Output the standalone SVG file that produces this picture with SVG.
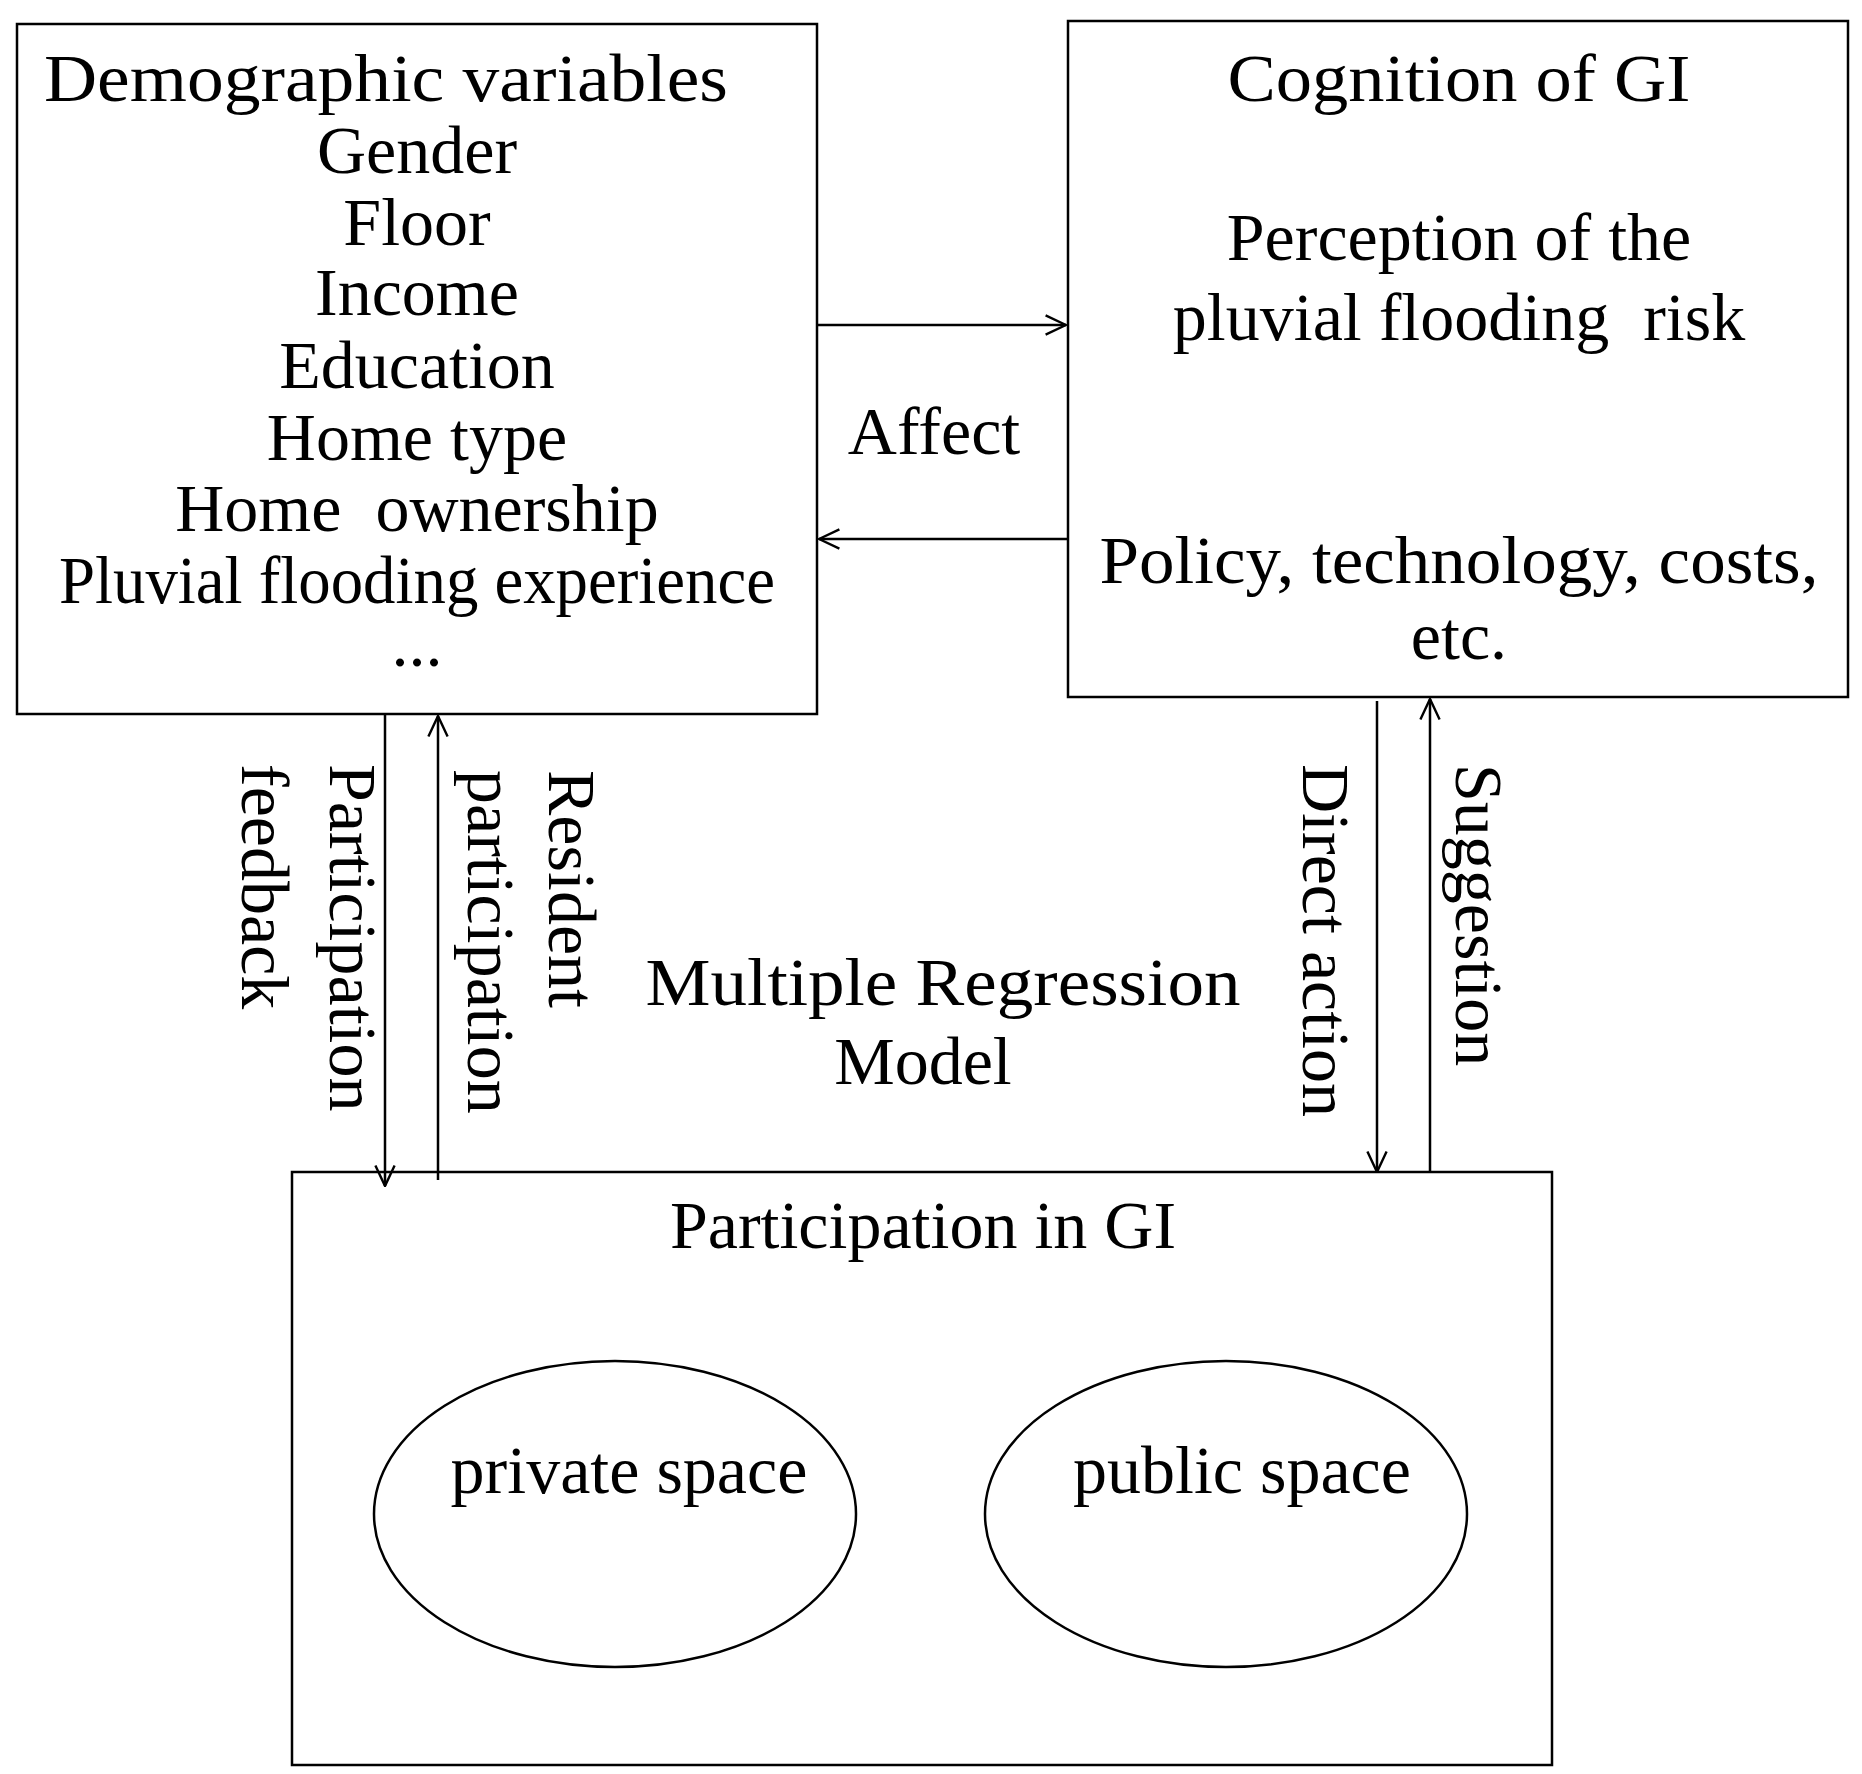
<svg xmlns="http://www.w3.org/2000/svg" width="1862" height="1774" viewBox="0 0 1862 1774">
<style>
text{font-family:"Liberation Serif","DejaVu Serif",serif;font-size:68px;fill:#000;text-anchor:middle}
.v{text-anchor:start}
.b{fill:#fff;stroke:#000;stroke-width:2.5}
.c{stroke:#000;stroke-width:2.5;fill:none}
</style>
<defs>
<marker id="m" viewBox="0 0 20 20" refX="19" refY="10" markerWidth="24" markerHeight="24" markerUnits="userSpaceOnUse" orient="auto"><path d="M2 2 L19 10 L2 18" fill="none" stroke="#000" stroke-width="2"/></marker></defs>
<rect width="1862" height="1774" fill="#fff"/>
<g id="demo"><rect class="b" x="17" y="24" width="800" height="690"/>
<text x="386" y="101" textLength="684" lengthAdjust="spacingAndGlyphs">Demographic variables</text>
<text x="417" y="173">Gender</text><text x="417" y="245">Floor</text><text x="417" y="315">Income</text><text x="417" y="388">Education</text><text x="417" y="460">Home type</text><text x="417" y="531" xml:space="preserve">Home  ownership</text>
<text x="417" y="603" textLength="716" lengthAdjust="spacingAndGlyphs">Pluvial flooding experience</text><text x="417" y="666">...</text></g>
<g id="cog"><rect class="b" x="1068" y="21" width="780" height="676"/>
<text x="1459" y="101" textLength="463" lengthAdjust="spacingAndGlyphs">Cognition of GI</text><text x="1459" y="260">Perception of the</text><text x="1459" y="340" xml:space="preserve">pluvial flooding  risk</text>
<text x="1459" y="583" textLength="719" lengthAdjust="spacingAndGlyphs">Policy, technology, costs,</text><text x="1459" y="659">etc.</text></g>
<g id="part"><rect class="b" x="292" y="1172" width="1260" height="593"/>
<text x="923" y="1248">Participation in GI</text>
<ellipse class="c" cx="615" cy="1514" rx="241" ry="153"/><ellipse class="c" cx="1226" cy="1514" rx="241" ry="153"/>
<text x="629" y="1493">private space</text><text x="1242" y="1493">public space</text></g>
<g id="connectors">
<line class="c" x1="817" y1="325" x2="1066" y2="325" marker-end="url(#m)"/>
<line class="c" x1="1068" y1="539" x2="819" y2="539" marker-end="url(#m)"/>
<line class="c" x1="385" y1="714" x2="385" y2="1186" marker-end="url(#m)"/>
<line class="c" x1="438" y1="1180" x2="438" y2="716" marker-end="url(#m)"/>
<line class="c" x1="1377" y1="701" x2="1377" y2="1172" marker-end="url(#m)"/>
<line class="c" x1="1430" y1="1172" x2="1430" y2="699" marker-end="url(#m)"/>
</g>
<g id="labels">
<text x="934" y="454">Affect</text>
<text x="943" y="1005" textLength="595" lengthAdjust="spacingAndGlyphs">Multiple Regression</text><text x="923" y="1084">Model</text>
<text class="v" transform="translate(330,764) rotate(90)">Participation</text>
<text class="v" transform="translate(242,764) rotate(90)">feedback</text>
<text class="v" transform="translate(549,770) rotate(90)">Resident</text>
<text class="v" transform="translate(468,770) rotate(90)">participation</text>
<text class="v" transform="translate(1303,764) rotate(90)">Direct action</text>
<text class="v" transform="translate(1456,764) rotate(90)">Suggestion</text>
</g>
</svg>
